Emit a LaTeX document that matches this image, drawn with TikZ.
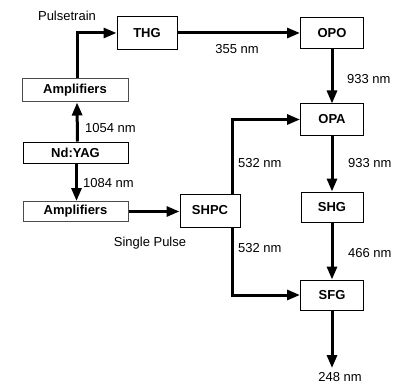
\documentclass[tikz,border=0pt]{standalone}
\usepackage{fontspec}
\setmainfont{Liberation Sans}
\usetikzlibrary{arrows.meta}
\begin{document}
\begin{tikzpicture}[x=1pt,y=-1pt,
  box/.style={draw=black,line width=1pt,fill=white,inner sep=0pt,font=\fontsize{13}{15}\selectfont\bfseries},
  arr/.style={line width=3pt,-{Triangle[length=13pt,width=10pt]}},
  lbl/.style={inner sep=0pt,font=\fontsize{13}{15}\selectfont}]
\useasboundingbox (0,0) rectangle (401,385);
\node[box,minimum width=60pt,minimum height=33pt] (thg) at (147,33) {THG};
\node[box,minimum width=63pt,minimum height=31pt] (opo) at (332,33) {OPO};
\node[box,minimum width=63pt,minimum height=31pt] (opa) at (332,119.5) {OPA};
\node[box,minimum width=62pt,minimum height=30pt] (shg) at (332,207) {SHG};
\node[box,minimum width=63pt,minimum height=30pt] (sfg) at (332,295) {SFG};
\node[box,minimum width=60pt,minimum height=33pt] (shpc) at (210,210.5) {SHPC};
\node[box,minimum width=106pt,minimum height=23pt,draw=black!70] (amptop) at (75,90.5) {Amplifiers};
\node[box,minimum width=105pt,minimum height=21pt] (nd) at (75.5,152.5) {Nd:YAG};
\node[box,minimum width=105pt,minimum height=20pt,draw=black!70] (ampbot) at (75.5,211.5) {Amplifiers};
\coordinate (out) at (332,368);

\draw[arr] ([xshift=2pt]amptop.north) |- (thg.west);
\draw[arr] ([xshift=2pt]nd.north) -- ([xshift=2pt]amptop.south);
\draw[arr] ([xshift=1pt]nd.south) -- ([xshift=1pt]ampbot.north);
\draw[arr] (ampbot.east) -- (shpc.west |- ampbot.east);
\draw[arr] (thg.east) -- (opo.west);
\draw[arr] (opo.south) -- (opa.north);
\draw[arr] (opa.south) -- (shg.north);
\draw[arr] (shg.south) -- (sfg.north);
\draw[arr] (sfg.south) -- (out);
\draw[arr] ([xshift=22pt]shpc.north) |- (opa.west);
\draw[arr] ([xshift=22pt]shpc.south) |- (sfg.west);

\node[lbl] (pt) at (67,16) {Pulsetrain};
\node[lbl] (l355) at (237,49) {355 nm};
\node[lbl,anchor=west] (l933a) at (347,79) {933 nm};
\node[lbl,anchor=west] (l1054) at (85,128) {1054 nm};
\node[lbl,anchor=west] (l1084) at (83,183) {1084 nm};
\node[lbl,anchor=west] (l532a) at (238,163) {532 nm};
\node[lbl,anchor=west] (l532b) at (238,248) {532 nm};
\node[lbl,anchor=west] (l933b) at (348,163) {933 nm};
\node[lbl,anchor=west] (l466) at (348,253) {466 nm};
\node[lbl] (l248) at (340,377) {248 nm};
\node[lbl] (sp) at (150,243) {Single Pulse};
\end{tikzpicture}
\end{document}
